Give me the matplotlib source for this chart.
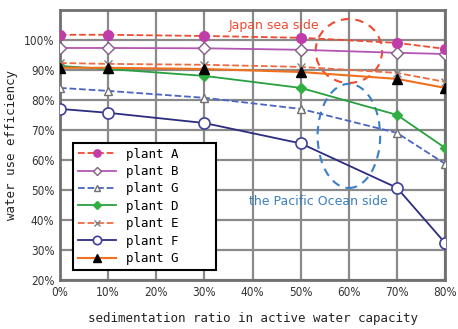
import matplotlib.pyplot as plt
from matplotlib.patches import Ellipse

# sedimentation ratio (%)
ratio = [0, 10, 30, 50, 70, 80]
plant_a = [101.7, 101.7, 101.3, 100.7, 99.0, 97.0]
plant_b = [97.3, 97.3, 97.2, 96.7, 95.7, 95.3]
plant_g1 = [84.0, 83.0, 80.7, 77.0, 69.0, 58.7]
plant_d = [91.3, 90.3, 88.0, 84.0, 75.0, 64.0]
plant_e = [92.3, 92.0, 91.7, 91.0, 89.0, 86.0]
plant_f = [77.0, 75.7, 72.3, 65.5, 50.7, 32.3]
plant_g2 = [90.7, 90.7, 90.3, 89.3, 87.0, 84.0]

xticks = [0, 10, 20, 30, 40, 50, 60, 70, 80]
yticks = [20, 30, 40, 50, 60, 70, 80, 90, 100]

mono = 'DejaVu Sans Mono'

fig = plt.figure(figsize=(4.58, 3.29), dpi=100)
ax = fig.add_axes([0.131, 0.149, 0.841, 0.821])

ax.plot(ratio, plant_a, '--', color='#f04a30', lw=1.3, marker='o', ms=7,
        mfc='#c03ca8', mec='#c03ca8', label='plant A', zorder=5)
ax.plot(ratio, plant_b, '-', color='#b455b4', lw=1.3, marker='D', ms=6,
        mfc='white', mec='#806080', label='plant B', zorder=4)
ax.plot(ratio, plant_g1, '--', color='#4a64c4', lw=1.3, marker='^', ms=6,
        mfc='white', mec='#707070', label='plant G', zorder=4)
ax.plot(ratio, plant_d, '-', color='#28a040', lw=1.3, marker='D', ms=5.5,
        mfc='#30b040', mec='#30b040', label='plant D', zorder=4)
ax.plot(ratio, plant_e, '--', color='#f06a40', lw=1.3, marker='x', ms=6,
        mec='#808080', label='plant E', zorder=4)
ax.plot(ratio, plant_f, '-', color='#2c2c80', lw=1.3, marker='o', ms=8,
        mfc='white', mec='#40409a', mew=1.2, label='plant F', zorder=4)
ax.plot(ratio, plant_g2, '-', color='#f07020', lw=1.5, marker='^', ms=7,
        mfc='black', mec='black', label='plant G', zorder=6)

ax.set_xlim(0, 80)
ax.set_ylim(20, 110)
ax.set_xticks(xticks)
ax.set_yticks(yticks)
ax.set_xticklabels([f'{v}%' for v in xticks], fontsize=8.5, color='#333333',
                   fontstretch='condensed')
ax.set_yticklabels([f'{v}%' for v in yticks], fontsize=8.5, color='#333333',
                   fontstretch='condensed')
ax.tick_params(length=0, pad=4)
ax.grid(True, color='#8a8a8a', lw=1.6)
ax.set_axisbelow(True)
for s in ax.spines.values():
    s.set_color('#707070')
    s.set_linewidth(2)

ax.set_xlabel('sedimentation ratio in active water capacity', fontfamily=mono,
              fontsize=9, color='#222222', labelpad=10)
ax.set_ylabel('water use efficiency', fontfamily=mono, fontsize=9,
              color='#222222', labelpad=4)

# annotations
ax.add_patch(Ellipse((60, 96.3), 13.8, 21.3, fill=False, ls=(0, (4, 3)),
                     ec='#f04a30', lw=1.5, zorder=3))
ax.add_patch(Ellipse((60, 68), 13, 34.7, fill=False, ls=(0, (4, 3)),
                     ec='#3a80c8', lw=1.5, zorder=3))
ax.text(44.5, 104.8, 'Japan sea side', color='#f04a30', fontsize=9,
        ha='center', va='center', zorder=7)
ax.text(53.6, 46.3, 'the Pacific Ocean side', color='#3a7fc0', fontsize=9,
        ha='center', va='center', zorder=7)

leg = ax.legend(loc='lower left', bbox_to_anchor=(0.034, 0.037, 0.372, 0.52),
                mode='expand', prop={'family': mono, 'size': 9},
                fancybox=False, framealpha=1, edgecolor='black',
                handlelength=3, borderaxespad=0, labelspacing=0.35,
                markerscale=0.75)
leg.get_frame().set_linewidth(1.5)

fig.savefig('out.png', dpi=100)
